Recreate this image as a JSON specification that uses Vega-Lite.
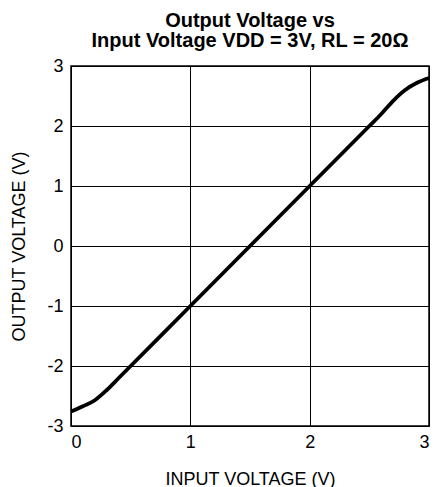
{
  "$schema": "https://vega.github.io/schema/vega-lite/v6.json",
  "autosize": {"type": "none"},
  "padding": {"left": 71, "top": 66, "right": 6, "bottom": 61},
  "width": 358,
  "height": 360,
  "title": {
    "text": ["Output Voltage vs", "Input Voltage VDD = 3V, RL = 20Ω"],
    "font": "Liberation Sans",
    "fontSize": 20,
    "fontWeight": "bold",
    "color": "black",
    "anchor": "middle",
    "lineHeight": 20,
    "offset": 6
  },
  "config": {
    "view": {"stroke": "black", "strokeWidth": 1.5},
    "axis": {
      "labelFont": "Liberation Sans",
      "titleFont": "Liberation Sans",
      "labelFontSize": 18,
      "titleFontSize": 18,
      "titleFontWeight": "normal",
      "labelColor": "black",
      "titleColor": "black",
      "gridColor": "black",
      "gridOpacity": 1,
      "gridWidth": 1,
      "domain": false,
      "ticks": false,
      "labelExpr": "'' + datum.value"
    }
  },
  "data": {
    "values": [
      {"vin": 0.0, "vout": -2.76},
      {"vin": 0.1, "vout": -2.67},
      {"vin": 0.2, "vout": -2.57},
      {"vin": 0.3, "vout": -2.4},
      {"vin": 0.4, "vout": -2.2},
      {"vin": 0.5, "vout": -2.0},
      {"vin": 1.0, "vout": -1.0},
      {"vin": 1.5, "vout": 0.0},
      {"vin": 2.0, "vout": 1.0},
      {"vin": 2.5, "vout": 2.0},
      {"vin": 2.6, "vout": 2.2},
      {"vin": 2.7, "vout": 2.42},
      {"vin": 2.8, "vout": 2.6},
      {"vin": 2.9, "vout": 2.72},
      {"vin": 3.0, "vout": 2.8}
    ]
  },
  "mark": {"type": "line", "color": "black", "strokeWidth": 3.8, "interpolate": "monotone"},
  "encoding": {
    "x": {
      "field": "vin", "type": "quantitative",
      "scale": {"domain": [0, 3], "nice": false},
      "axis": {"values": [0, 1, 2, 3], "title": "INPUT VOLTAGE (V)", "labelPadding": 7, "titlePadding": 19}
    },
    "y": {
      "field": "vout", "type": "quantitative",
      "scale": {"domain": [-3, 3], "nice": false},
      "axis": {"values": [-3, -2, -1, 0, 1, 2, 3], "title": "OUTPUT VOLTAGE (V)", "labelPadding": 8, "titlePadding": 18}
    }
  }
}
